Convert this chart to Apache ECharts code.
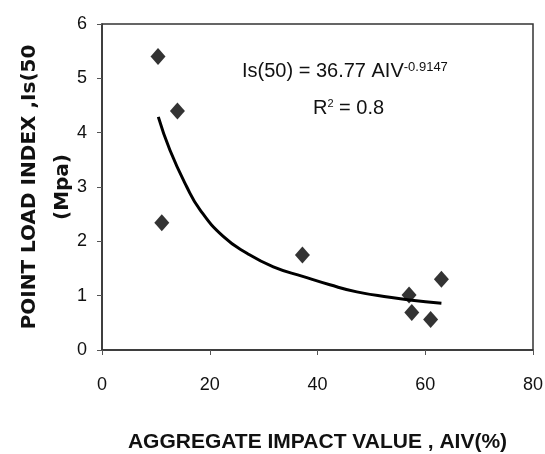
<!DOCTYPE html>
<html><head><meta charset="utf-8">
<script src="https://cdn.jsdelivr.net/npm/echarts@6/dist/echarts.min.js"></script>
<style>html,body{margin:0;padding:0;background:#fff}#c{width:545px;height:454px}</style>
</head><body><div id="c"></div>
<script>
const aiv = [10.4, 14.0, 11.1, 37.2, 57.0, 57.5, 61.0, 63.0];
const is50 = [5.40, 4.40, 2.34, 1.75, 1.01, 0.69, 0.56, 1.30];
const trendX = [10.45, 12.6, 15.7, 18.2, 22.5, 26.9, 31.8, 37.4, 42.3, 47.3, 53.4, 57.1, 63.0];
const trendY = [4.29, 3.68, 3.01, 2.58, 2.09, 1.78, 1.53, 1.35, 1.20, 1.07, 0.97, 0.92, 0.86];
const xTicks = [0, 20, 40, 60, 80];
const yTicks = [0, 1, 2, 3, 4, 5, 6];

const chart = echarts.init(document.getElementById('c'));
const font = 'Liberation Sans, Arial, sans-serif';
const wide = 'DejaVu Sans, sans-serif';
chart.setOption({
  animation: false,
  grid: {left: 102, right: 12, top: 24, bottom: 104, show: true, borderColor: '#333', borderWidth: 1.5,
         containLabel: false, outerBoundsMode: 'none'},
  xAxis: {
    type: 'value', min: xTicks[0], max: xTicks[xTicks.length-1], interval: 20,
    axisLine: {show: true, lineStyle: {color: '#333', width: 1.5}},
    axisTick: {show: true, length: 5, lineStyle: {color: '#555'}},
    splitLine: {show: false},
    axisLabel: {color: '#111', fontSize: 18, fontFamily: font, margin: 26},
    name: 'AGGREGATE IMPACT VALUE , AIV(%)', nameLocation: 'middle', nameGap: 82, nameMoveOverlap: false,
    nameTextStyle: {color: '#111', fontSize: 21, fontWeight: 'bold', fontFamily: font}
  },
  yAxis: {
    type: 'value', min: yTicks[0], max: yTicks[yTicks.length-1], interval: 1,
    axisLine: {show: true, lineStyle: {color: '#333', width: 1.5}},
    axisTick: {show: true, length: 5, lineStyle: {color: '#555'}},
    splitLine: {show: false},
    axisLabel: {color: '#111', fontSize: 18, fontFamily: font, margin: 15},
    name: 'POINT LOAD INDEX ,Is(50\n(Mpa)', nameLocation: 'middle', nameGap: 23, nameMoveOverlap: false,
    nameTextStyle: {color: '#111', fontSize: 20, fontWeight: 'bold', fontFamily: wide, lineHeight: 33}
  },
  series: [
    {type: 'line', data: trendX.map((x,i)=>[x, trendY[i]]), smooth: true, symbol: 'none',
     lineStyle: {color: '#000', width: 3}, z: 2},
    {type: 'scatter', data: aiv.map((x,i)=>[x, is50[i]]), symbol: 'diamond', symbolSize: [15, 17],
     itemStyle: {color: '#000'}, z: 3}
  ],
  graphic: [
    {type: 'text', left: 242, top: 61, style: {
      text: '{m|Is(50) = 36.77 AIV}{s|-0.9147}', fill: '#111',
      rich: {m: {fontSize: 20, fontFamily: font, fill: '#111'}, s: {fontSize: 13, fontFamily: font, fill: '#111', padding: [0,0,8,0]}}
    }},
    {type: 'text', left: 313, top: 98, style: {
      text: '{m|R}{s|2}{m| = 0.8}', fill: '#111',
      rich: {m: {fontSize: 20, fontFamily: font, fill: '#111'}, s: {fontSize: 11, fontFamily: font, fill: '#111', padding: [0,0,9,0]}}
    }}
  ]
});
</script></body></html>
